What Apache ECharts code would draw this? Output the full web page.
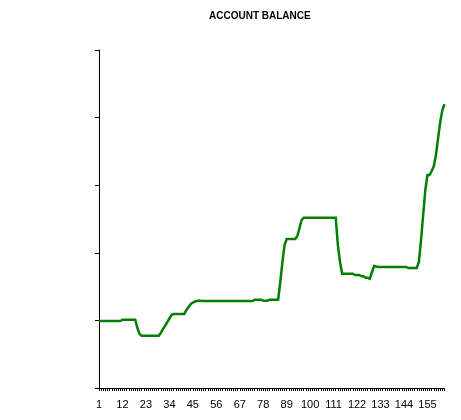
<!DOCTYPE html>
<html>
<head>
<meta charset="utf-8">
<script src="https://cdn.jsdelivr.net/npm/echarts@6/dist/echarts.min.js"></script>
<style>html,body{margin:0;padding:0;background:#fff;}#c{width:461px;height:420px;}</style>
</head>
<body>
<div id="c"></div>
<script>
var title = "ACCOUNT BALANCE";
var balance = [
 990,990,990,990,990,990,990,990,990,990,990,
 1010,1010,1010,1010,1010,1010,1010,
 887,799,
 774,774,774,774,774,774,774,774,774,
 818,870,921,976,1028,1080,
 1094,1094,1094,1094,1094,1094,
 1154,1198,1242,1265,1279,1287,1294,
 1287,1287,1287,1287,1287,1287,1287,1287,1287,1287,1287,1287,1287,1287,1287,1287,1287,1287,1287,1287,1287,1287,1287,1287,1287,
 1306,1306,1306,1306,
 1291,1291,1291,
 1306,1306,1306,1306,1306,
 1568,1864,2115,
 2204,2204,2204,2204,2204,
 2248,2366,2485,
 2519,2519,2519,2519,2519,2519,2519,2519,2519,2519,2519,2519,2519,2519,2519,2519,
 2115,1864,
 1690,1690,1690,1690,1690,1690,
 1671,1671,1671,
 1652,1652,
 1631,1631,
 1617,
 1716,1804,1797,
 1790,1790,1790,1790,1790,1790,1790,1790,1790,1790,1790,1790,1790,1790,
 1775,1775,1775,1775,1775,
 1864,2189,2559,2928,3150,3150,3209,3283,3446,3698,3934,4112,4200
];
var days = [];
for (var i = 1; i <= balance.length; i++) days.push(String(i));
var yMin = 0, yMax = 5000, yStep = 1000;

var chart = echarts.init(document.getElementById('c'), null, {renderer: 'canvas'});
chart.setOption({
  animation: false,
  backgroundColor: '#ffffff',
  title: {
    text: title, left: 204, top: 6,
    textStyle: {fontFamily: 'Liberation Sans, Arial, sans-serif', fontSize: 10, fontWeight: 'bold', color: '#000'}
  },
  grid: {left: 99, right: 16.5, top: 50, bottom: 32, containLabel: false},
  xAxis: {
    type: 'category', data: days, boundaryGap: false,
    axisLine: {lineStyle: {color: '#000', width: 1}},
    axisTick: {show: true, interval: 0, length: 3, lineStyle: {color: '#000'}},
    axisLabel: {interval: 10, color: '#000', fontSize: 11, margin: 11, fontFamily: 'Liberation Sans, Arial, sans-serif'},
    splitLine: {show: false}
  },
  yAxis: {
    type: 'value', min: yMin, max: yMax, interval: yStep,
    axisLine: {show: true, lineStyle: {color: '#000', width: 1}},
    axisTick: {show: true, length: 4, lineStyle: {color: '#000'}},
    axisLabel: {show: false},
    splitLine: {show: false}
  },
  series: [{
    type: 'line', data: balance, showSymbol: false, symbol: 'none', smooth: false,
    lineStyle: {color: '#008000', width: 2.5, join: 'miter', cap: 'butt'}, itemStyle: {color: '#008000'}
  }]
});
</script>
</body>
</html>
